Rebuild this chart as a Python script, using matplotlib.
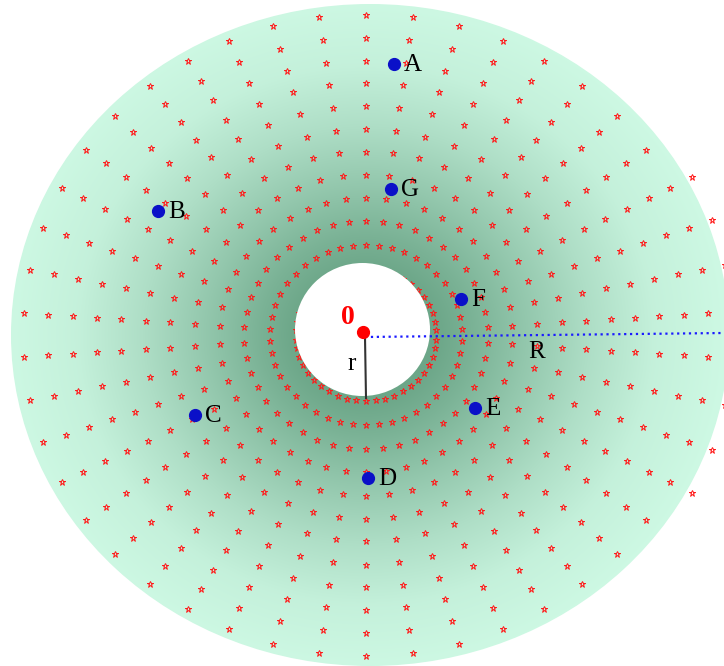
import numpy as np
import matplotlib
matplotlib.use("Agg")
import matplotlib.pyplot as plt
from matplotlib.patches import Ellipse

# ---- data ----
point_labels = ["A", "B", "C", "D", "E", "F", "G"]
point_x = [394, 158, 195, 368, 475, 461, 391]
point_y = [64, 211, 415, 478, 408, 299, 189]

ring_radii = [66, 90, 114, 137, 160.5, 183.5, 206, 229.5, 252, 274.5, 297.5, 320.5, 343]
n_spokes = 46

center_label = "0"
inner_label = "r"
outer_label = "R"

# ---- geometry / style ----
W, H = 724, 666
gcx, gcy = 366, 335          # grid centre
kx = 1.07                    # horizontal stretch of the picture
disc_cx, disc_cy, disc_a, disc_b = 370, 335, 359, 331
hole_cx, hole_cy, hole_w, hole_h = 362.5, 329.5, 135, 133
dot_x, dot_y = 363, 332

fig = plt.figure(figsize=(W / 100, H / 100), dpi=100)
ax = fig.add_axes([0, 0, 1, 1])
ax.set_xlim(0, W)
ax.set_ylim(H, 0)
ax.axis("off")

# radial gradient
yy, xx = np.mgrid[0:H, 0:W] + 0.5
rho = np.sqrt(((xx - gcx) / kx) ** 2 + (yy - gcy) ** 2)
prof_r = [62, 72, 100, 150, 210, 270, 340]
prof_m = [1.0, 0.97, 0.85, 0.6, 0.32, 0.1, 0.0]
m = np.interp(rho, prof_r, prof_m)[..., None]
inner_c = np.array([108, 166, 136]) / 255
outer_c = np.array([206, 249, 228]) / 255
img = outer_c + (inner_c - outer_c) * m
im = ax.imshow(img, extent=(0, W, H, 0), zorder=1, interpolation="bilinear")
disc = Ellipse((disc_cx, disc_cy), 2 * disc_a, 2 * disc_b, facecolor="none", edgecolor="none")
ax.add_patch(disc)
im.set_clip_path(disc)

# mesh markers (only those lying on the disc)
theta = (np.arange(n_spokes) + 0.5) * 2 * np.pi / n_spokes + np.pi / 2 - 11.5 * 2 * np.pi / n_spokes
for r in ring_radii:
    gx = gcx + kx * r * np.cos(theta)
    gy = gcy - r * np.sin(theta)
    keep = ((gx - disc_cx) / (disc_a + 6)) ** 2 + ((gy - disc_cy) / (disc_b + 6)) ** 2 <= 1
    ax.plot(gx[keep], gy[keep], linestyle="none", marker="*", markersize=5,
            markerfacecolor="none", markeredgecolor="#ff1a1a", markeredgewidth=0.7, zorder=2)

# inner hole
ax.add_patch(Ellipse((hole_cx, hole_cy), hole_w, hole_h, facecolor="white", edgecolor="none", zorder=3))

# radius lines
ax.plot([dot_x + 2, 724], [dot_y + 5, dot_y + 1], color="#1a1aff", linestyle=":", linewidth=1.6, zorder=4)
ax.plot([dot_x + 2, dot_x + 3], [dot_y + 5, 398], color="#333333", linewidth=1.5, zorder=4)

# centre
ax.plot([dot_x], [dot_y], marker="o", markersize=8.5, color="#ff0000", linestyle="none", zorder=6)
ax.text(348, 317, center_label, color="#ff0000", fontsize=20, fontweight="bold",
        family="Liberation Serif", ha="center", va="center", zorder=6)
ax.text(352, 364, inner_label, color="black", fontsize=18, family="Liberation Serif",
        ha="center", va="center", zorder=6)
ax.text(537, 352, outer_label, color="black", fontsize=18, family="Liberation Serif",
        ha="center", va="center", zorder=6)

# labelled points
ax.plot(point_x, point_y, linestyle="none", marker="o", markersize=8.5, color="#0a10c8", zorder=5)
for lab, px, py in zip(point_labels, point_x, point_y):
    ax.text(px + 10, py + 1, lab, color="black", fontsize=18, family="Liberation Serif",
            ha="left", va="center", zorder=6)

fig.savefig("out.png", dpi=100)
